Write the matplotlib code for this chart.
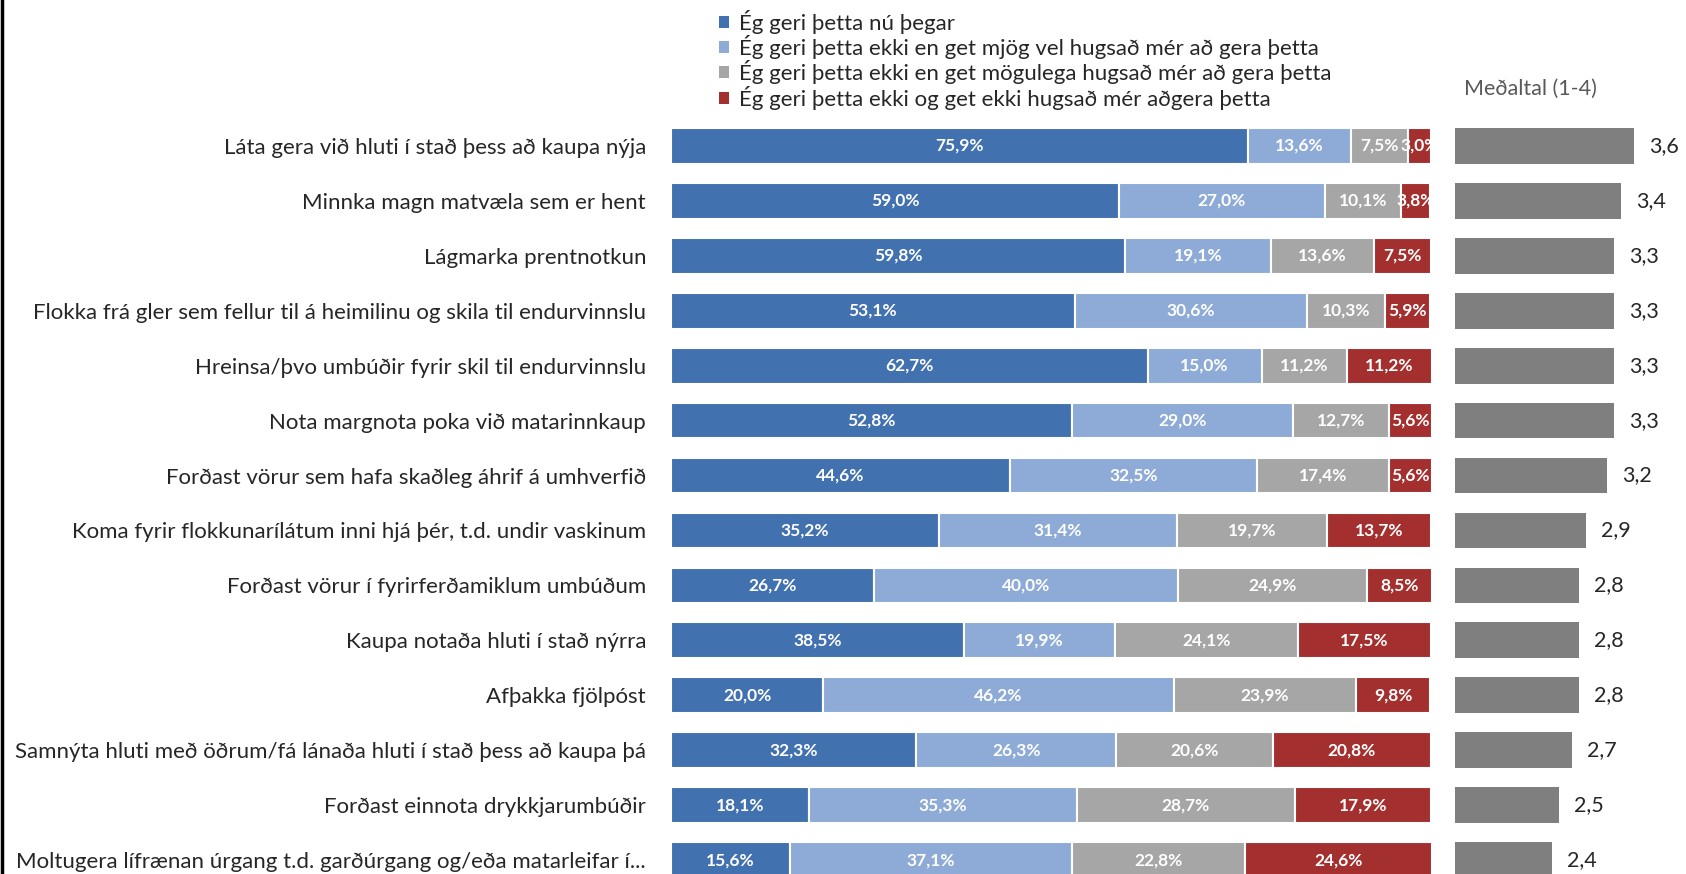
import matplotlib.pyplot as plt
from matplotlib.patches import Patch

# ------------------------------------------------------------
# DATA
# ------------------------------------------------------------
categories = [
    "Láta gera við hluti í stað þess að kaupa nýja",
    "Minnka magn matvæla sem er hent",
    "Lágmarka prentnotkun",
    "Flokka frá gler sem fellur til á heimilinu og skila til endurvinnslu",
    "Hreinsa/þvo umbúðir fyrir skil til endurvinnslu",
    "Nota margnota poka við matarinnkaup",
    "Forðast vörur sem hafa skaðleg áhrif á umhverfið",
    "Koma fyrir flokkunarílátum inni hjá þér, t.d. undir vaskinum",
    "Forðast vörur í fyrirferðamiklum umbúðum",
    "Kaupa notaða hluti í stað nýrra",
    "Afþakka fjölpóst",
    "Samnýta hluti með öðrum/fá lánaða hluti í stað þess að kaupa þá",
    "Forðast einnota drykkjarumbúðir",
    "Moltugera lífrænan úrgang t.d. garðúrgang og/eða matarleifar í...",
]

geri_nu = [75.9, 59.0, 59.8, 53.1, 62.7, 52.8, 44.6, 35.2, 26.7, 38.5, 20.0, 32.3, 18.1, 15.6]
mjog_vel = [13.6, 27.0, 19.1, 30.6, 15.0, 29.0, 32.5, 31.4, 40.0, 19.9, 46.2, 26.3, 35.3, 37.1]
mogulega = [7.5, 10.1, 13.6, 10.3, 11.2, 12.7, 17.4, 19.7, 24.9, 24.1, 23.9, 20.6, 28.7, 22.8]
ekki = [3.0, 3.8, 7.5, 5.9, 11.2, 5.6, 5.6, 13.7, 8.5, 17.5, 9.8, 20.8, 17.9, 24.6]

medaltal = [3.6, 3.4, 3.3, 3.3, 3.3, 3.3, 3.2, 2.9, 2.8, 2.8, 2.8, 2.7, 2.5, 2.4]

series_names = [
    "Ég geri þetta nú þegar",
    "Ég geri þetta ekki en get mjög vel hugsað mér að gera þetta",
    "Ég geri þetta ekki en get mögulega hugsað mér að gera þetta",
    "Ég geri þetta ekki og get ekki hugsað mér aðgera þetta",
]
colors = ["#4271B0", "#8DABD6", "#A6A6A6", "#A3302E"]

plt.rcParams["font.family"] = ["Lato", "DejaVu Sans"]

# ------------------------------------------------------------
# FIGURE
# ------------------------------------------------------------
W, H = 1686, 874
fig = plt.figure(figsize=(W / 100, H / 100), dpi=100)

top_px, bot_px = 118.5, 887.5
ax = fig.add_axes([671 / W, 1 - bot_px / H, (1431 - 671) / W, (bot_px - top_px) / H])
ax2 = fig.add_axes([1455 / W, 1 - bot_px / H, 207 / W, (bot_px - top_px) / H])

y = list(range(len(categories)))
left = [0.0] * len(categories)
for vals, col, name in zip([geri_nu, mjog_vel, mogulega, ekki], colors, series_names):
    ax.barh(y, vals, left=left, height=0.65, color=col, edgecolor="white",
            linewidth=1.5, label=name)
    for yi, (l, v) in enumerate(zip(left, vals)):
        ax.text(l + v / 2, yi, f"{v:.1f}%".replace(".", ","), ha="center",
                va="center", color="white", fontsize=12.5, fontweight="bold",
                clip_on=True)
    left = [a + b for a, b in zip(left, vals)]

ax.set_xlim(0, 100)
ax.set_ylim(len(categories) - 0.5, -0.5)
ax.set_yticks(y)
ax.set_yticklabels(categories, fontsize=16, color="#262626")
ax.tick_params(axis="y", length=0, pad=18)
ax.set_xticks([])
for s in ax.spines.values():
    s.set_visible(False)

# mean panel
ax2.barh(y, [m - 1 for m in medaltal], left=1, height=0.65, color="#7F7F7F")
for yi, m in enumerate(medaltal):
    ax2.text(m + 0.22, yi, f"{m:.1f}".replace(".", ","), ha="left", va="center",
             fontsize=15.5, color="#262626", clip_on=False)
ax2.set_xlim(1, 4)
ax2.set_ylim(len(categories) - 0.5, -0.5)
ax2.axis("off")

fig.text(1464 / W, 1 - 89 / H, "Meðaltal (1-4)", ha="left", va="center",
         fontsize=15.5, color="#595959")

handles = [Patch(facecolor=c) for c in colors]
fig.legend(handles, series_names, loc="upper left",
           bbox_to_anchor=(708 / W, 1 + 1.5 / H), frameon=False, fontsize=16,
           handlelength=0.45, handleheight=0.45, handletextpad=0.45,
           labelspacing=0.06, borderpad=0, labelcolor="#262626")

# thin border on the left edge
fig.add_artist(plt.Line2D([1.5 / W, 1.5 / W], [0, 1], color="black", linewidth=2.5))

fig.savefig("out.png", dpi=100)
